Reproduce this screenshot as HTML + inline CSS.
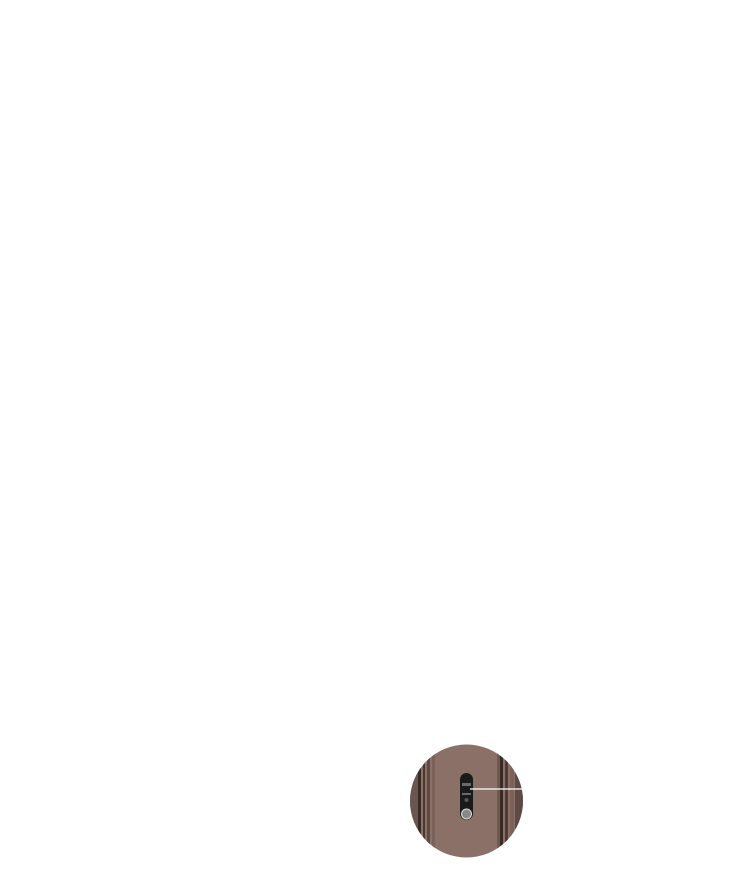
<!DOCTYPE html>
<html><head><style>
html,body{margin:0;padding:0;background:#fff;width:750px;height:880px;overflow:hidden}
</style></head><body>
<svg width="750" height="880" xmlns="http://www.w3.org/2000/svg">
<defs>
<clipPath id="c"><circle cx="466.5" cy="801" r="56.5"/></clipPath>
</defs>
<g clip-path="url(#c)">
<rect x="405" y="740" width="125" height="125" fill="#8a7067"/>
<rect x="410" y="740" width="8" height="125" fill="#6a5650"/>
<rect x="418" y="740" width="3" height="125" fill="#3a2a26"/>
<rect x="423" y="740" width="2" height="125" fill="#4a3833"/>
<rect x="427" y="740" width="3" height="125" fill="#5e4a44"/>
<rect x="432" y="740" width="3" height="125" fill="#7a625a"/>
<rect x="497" y="740" width="3" height="125" fill="#6e5850"/>
<rect x="500" y="740" width="3" height="125" fill="#3a2a26"/>
<rect x="505" y="740" width="3" height="125" fill="#4e3c37"/>
<rect x="510" y="740" width="4" height="125" fill="#7a625a"/>
<rect x="515" y="740" width="10" height="125" fill="#5e4a44"/>
<rect x="460" y="773" width="13" height="47" rx="6.5" fill="#1a1a1a"/>
<rect x="462" y="783" width="9" height="3" fill="#6a6a6a"/>
<rect x="462" y="793" width="9" height="2" fill="#6a6a6a"/>
<circle cx="466.5" cy="800" r="2" fill="#555"/>
<circle cx="466.5" cy="814" r="5" fill="#888" stroke="#ddd" stroke-width="1"/>
</g>
<line x1="470" y1="789" x2="523" y2="789" stroke="#fff" stroke-width="1.3"/>
</svg>
</body></html>
